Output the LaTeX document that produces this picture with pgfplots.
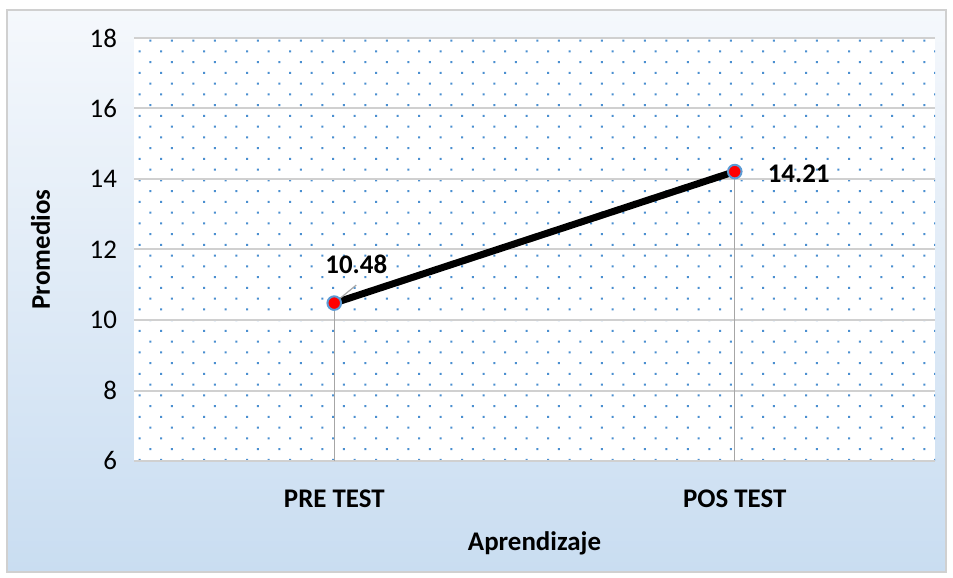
\documentclass[border=0pt]{standalone}
\usepackage{pgfplots}
\pgfplotsset{compat=1.18}
\usepackage{fontspec}
\setmainfont{Carlito}
\usetikzlibrary{patterns.meta}
\definecolor{bgtop}{HTML}{F5F8FC}
\definecolor{bgmid}{HTML}{B5D1EB}
\definecolor{bgbot}{HTML}{C9DDF1}
\definecolor{dotc}{HTML}{4A8FD0}
\definecolor{gridc}{HTML}{D0D0D0}
\definecolor{mkedge}{HTML}{5B9BD5}
\begin{document}
\begin{tikzpicture}
\path (-67bp,-58.5bp) rectangle (409.5bp,230.5bp);
\shade[top color=bgtop, middle color=bgmid, bottom color=bgbot, shading angle=0]
  (-63.5bp,-55.5bp) rectangle (406bp,225.5bp);
\draw[gridc, line width=1bp] (-63.5bp,-55.5bp) rectangle (406bp,225.5bp);
\begin{axis}[
  at={(0,0)}, anchor=south west,
  scale only axis,
  width=400.5bp, height=211.5bp,
  xmin=-0.5, xmax=1.5,
  ymin=6, ymax=18,
  ytick={6,8,...,18},
  xtick={0,1},
  xticklabels={PRE TEST, POS TEST},
  axis line style={draw=none},
  major tick length=0pt,
  ymajorgrids,
  grid style={gridc, line width=1bp},
  axis background/.style={fill=white, postaction={pattern={Dots[distance=7.6bp, radius=0.7bp, angle=45]}, pattern color=dotc}},
  /pgf/number format/assume math mode=true,
  yticklabel style={font=\fontsize{13.5}{15}\selectfont, xshift=-5bp},
  xticklabel style={font=\fontsize{13.5}{15}\selectfont\bfseries, yshift=-11bp},
  xlabel={Aprendizaje},
  ylabel={Promedios},
  xlabel style={font=\fontsize{13.5}{15}\selectfont\bfseries, yshift=-5bp},
  ylabel style={font=\fontsize{13.5}{15}\selectfont\bfseries, yshift=13bp},
  clip=true,
]
\draw[gridc, line width=1.2bp] (rel axis cs:0,0) -- (rel axis cs:1,0);
\addplot[ycomb, color=gray!70, line width=0.6bp, no marks] coordinates {(0,10.48) (1,14.21)};
\addplot[black, line width=3.5bp, mark=*, mark size=3.4bp,
  mark options={fill=red, draw=mkedge, line width=1bp}] coordinates {(0,10.48) (1,14.21)};
\draw[gray!70, line width=0.6bp] (axis cs:0,10.48) -- ++(11bp,9bp);
\node[font=\fontsize{13.5}{15}\selectfont\bfseries, anchor=south] at (axis cs:0.055,11.12) {10.48};
\node[font=\fontsize{13.5}{15}\selectfont\bfseries, anchor=west] at (axis cs:1.065,14.15) {14.21};
\end{axis}
\end{tikzpicture}
\end{document}
